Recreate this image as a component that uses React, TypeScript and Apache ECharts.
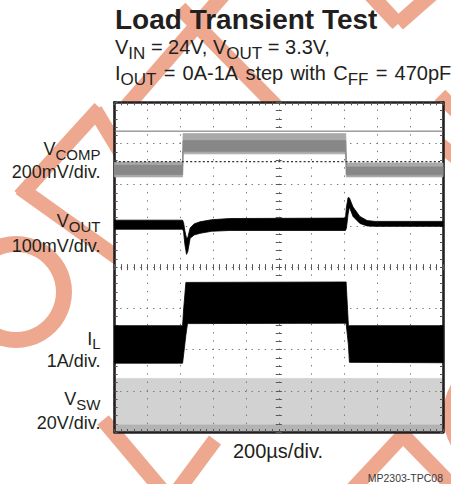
import React, { useEffect, useRef } from "react";
import * as echarts from "echarts";

// ---------- text ----------
const TITLE = "Load Transient Test";
const TIME_LABEL = "200\u00b5s/div.";
const FIG_ID = "MP2303-TPC08";

// ---------- scope screen (divisions) ----------
const X_DIVS = 10;
const Y_DIVS = 8;

// V_COMP (gray band), values in screen divisions
const vcompT = [0, 2.07, 2.085, 7.04, 7.055, 10];
const vcompOuterHi = [6.55, 6.55, 7.24, 7.24, 6.53, 6.53];
const vcompOuterLo = [6.19, 6.19, 6.75, 6.75, 6.19, 6.19];
const vcompCoreHi = [6.47, 6.47, 7.07, 7.07, 6.43, 6.43];
const vcompCoreLo = [6.25, 6.25, 6.81, 6.81, 6.24, 6.24];

// V_OUT (black band)
const voutT = [0, 2.07, 2.1, 2.14, 2.19, 2.23, 2.3, 2.42, 2.6, 2.95, 3.5, 7.03, 7.06, 7.11, 7.15, 7.26, 7.47, 7.69, 7.93, 10];
const voutHi = [5.14, 5.14, 5.08, 4.88, 4.7, 4.72, 4.95, 5.05, 5.1, 5.15, 5.18, 5.19, 5.46, 5.69, 5.68, 5.46, 5.23, 5.13, 5.11, 5.11];
const voutLo = [4.92, 4.92, 4.86, 4.55, 4.31, 4.38, 4.7, 4.78, 4.82, 4.87, 4.89, 4.89, 4.95, 5.29, 5.46, 5.23, 5.06, 5.0, 4.99, 4.99];

// I_L (black band)
const ilT = [0, 2.07, 2.1, 2.17, 2.22, 7.05, 7.12, 7.15, 10];
const ilHi = [2.58, 2.58, 2.96, 3.63, 3.63, 3.64, 2.58, 2.58, 2.58];
const ilLo = [1.67, 1.67, 1.87, 2.35, 2.63, 2.64, 2.11, 1.69, 1.68];

// V_SW (light gray band)
const vswT = [0, 10];
const vswHi = [1.3, 1.3];
const vswMid = [0.17, 0.17];
const vswLo = [0, 0];

// horizontal cursor / marker levels
const cursorLevel = [7.3];
const markerLevel = [6.56];

// ---------- layout ----------
const W = 451;
const H = 484;
const GL = 114.6;
const GT = 102.3;
const GW = 328.4;
const GH = 329.7;
const FONT = '"Liberation Sans", Arial, Helvetica, sans-serif';
const INK = "#231f20";
const WM = "#eea88f";

function band(name: string, t: number[], hi: number[], lo: number[], color: string, z: number) {
  return {
    type: "custom",
    name,
    xAxisIndex: 0,
    yAxisIndex: 0,
    z,
    silent: true,
    clip: true,
    data: [[t[0], lo[0]]],
    renderItem: (_p: any, api: any) => {
      const pts: number[][] = [];
      for (let i = 0; i < t.length; i++) pts.push(api.coord([t[i], hi[i]]));
      for (let i = t.length - 1; i >= 0; i--) pts.push(api.coord([t[i], lo[i]]));
      return {
        type: "polygon",
        shape: { points: pts },
        style: { fill: color, stroke: color, lineWidth: 0.8 },
      };
    },
  };
}

function hline(name: string, level: number, color: string, type: any, width: number) {
  return {
    type: "line",
    name,
    xAxisIndex: 0,
    yAxisIndex: 0,
    z: 3,
    silent: true,
    symbol: "none",
    data: [
      [0, level],
      [X_DIVS, level],
    ],
    lineStyle: { color, type, width },
  };
}

const tickStyle = { color: "#555", width: 1 };

function xAx(extra: any) {
  return {
    type: "value",
    min: 0,
    max: X_DIVS,
    interval: 1,
    axisLabel: { show: false },
    axisLine: { show: false, onZero: false },
    axisTick: { show: true, inside: true, length: 3, lineStyle: tickStyle },
    minorTick: { show: true, splitNumber: 5, length: 3, lineStyle: tickStyle },
    splitLine: { show: false },
    ...extra,
  };
}
function yAx(extra: any) {
  return {
    type: "value",
    min: 0,
    max: Y_DIVS,
    interval: 1,
    axisLabel: { show: false },
    axisLine: { show: false, onZero: false },
    axisTick: { show: true, inside: true, length: 3, lineStyle: tickStyle },
    minorTick: { show: true, splitNumber: 5, length: 3, lineStyle: tickStyle },
    splitLine: { show: false },
    ...extra,
  };
}

const frameLine = { show: true, onZero: false, lineStyle: { color: INK, width: 2.6 } };

// watermark strokes (decorative)
const WM_LINES = [
  [127, 106, 224, -6],
  [180, 8, 276, 106],
  [100, 108, 20, 196],
  [95, 110, 122, 155],
  [20, 188, 118, 258],
  [352, 490, 406, 432],
  [400, 432, 458, 492],
  [103, 420, 162, 490],
  [178, 490, 215, 440],
  [440, 95, 460, 115],
  [440, 145, 460, 160],
  [370, -6, 398, 24],
  [398, 24, 432, -6],
];
const WM_RINGS = [
  [16, 292, 56, 40],
  [505, 415, 62, 47],
];

export default function App() {
  const ref = useRef<HTMLDivElement>(null);
  useEffect(() => {
    if (!ref.current) return;
    const chart = echarts.init(ref.current, undefined, { renderer: "svg", width: W, height: H });

    // subscript: padding-top pushes the glyphs down by half the padding
    const sub = (size: number, lh: number, pad: number) => ({
      fontFamily: FONT,
      fontSize: size,
      lineHeight: lh,
      padding: [pad, 0, 0, 0],
      fill: INK,
      color: INK,
    });
    const main = (size: number) => ({ fontFamily: FONT, fontSize: size, lineHeight: size, fill: INK, color: INK });

    const richHead = { m: main(20), s: sub(17, 8, 12) };
    const richHead2 = {
      m: main(20),
      s: sub(17, 8, 12),
      sp: { fontFamily: FONT, fontSize: 26, lineHeight: 20, fill: INK, color: INK },
    };
    const richLab = { m: main(18), s: sub(15, 8, 10) };

    const graphics: any[] = [];
    WM_LINES.forEach((l) =>
      graphics.push({
        type: "line",
        z: -10,
        silent: true,
        shape: { x1: l[0], y1: l[1], x2: l[2], y2: l[3] },
        style: { stroke: WM, lineWidth: 15 },
      })
    );
    WM_RINGS.forEach((r) =>
      graphics.push({
        type: "ring",
        z: -10,
        silent: true,
        shape: { cx: r[0], cy: r[1], r: r[2], r0: r[3] },
        style: { fill: WM },
      })
    );
    graphics.push({
      type: "rect",
      z: -5,
      silent: true,
      shape: { x: GL, y: GT, width: GW, height: GH },
      style: { fill: "#ffffff" },
    });

    const txt = (text: string, x: number, y: number, font: string, align: string, va: string, fill = INK) => ({
      type: "text",
      z: 10,
      silent: true,
      x,
      y,
      style: { text, font, fill, align, verticalAlign: va },
    });
    const rich = (text: string, x: number, y: number, r: any, align: string) => ({
      type: "text",
      z: 10,
      silent: true,
      x,
      y,
      style: { text, rich: r, align, verticalAlign: "top", fill: INK },
    });

    graphics.push(txt(TITLE, 115, 19.6, `bold 28px ${FONT}`, "left", "middle"));
    graphics.push(rich("{m|V}{s|IN}{m| = 24V, V}{s|OUT}{m| = 3.3V,}", 115, 37.4, richHead, "left"));
    graphics.push(
      rich(
        "{m|I}{s|OUT}{sp| }{m|=}{sp| }{m|0A-1A}{sp| }{m|step}{sp| }{m|with}{sp| }{m|C}{s|FF}{sp| }{m|=}{sp| }{m|470pF}",
        115,
        63.1,
        richHead2,
        "left"
      )
    );

    const LX = 100.5;
    graphics.push(rich("{m|V}{s|COMP}", LX, 140.3, richLab, "right"));
    graphics.push(txt("200mV/div.", LX, 171.6, `18px ${FONT}`, "right", "middle"));
    graphics.push(rich("{m|V}{s|OUT}", LX, 212.0, richLab, "right"));
    graphics.push(txt("100mV/div.", LX, 246.0, `18px ${FONT}`, "right", "middle"));
    graphics.push(rich("{m|I}{s|L}", LX, 329.6, richLab, "right"));
    graphics.push(txt("1A/div.", LX, 361.4, `18px ${FONT}`, "right", "middle"));
    graphics.push(rich("{m|V}{s|SW}", LX, 390.3, richLab, "right"));
    graphics.push(txt("20V/div.", LX, 422.8, `18px ${FONT}`, "right", "middle"));

    graphics.push(txt(TIME_LABEL, 278, 451, `20px ${FONT}`, "center", "middle"));
    graphics.push(txt(FIG_ID, 443, 478.1, `10.5px ${FONT}`, "right", "middle", "#3a3a3a"));

    const hGap = GW / X_DIVS / 5;
    const vGap = GH / Y_DIVS / 5;

    const option: any = {
      animation: false,
      backgroundColor: "#ffffff",
      grid: { left: GL, top: GT, width: GW, height: GH, show: false },
      xAxis: [
        xAx({
          position: "bottom",
          axisLine: frameLine,
          splitLine: {
            show: true,
            lineStyle: { color: "#7a7a7a", width: 1, type: [1.4, vGap - 1.4], dashOffset: 0.7 },
          },
        }),
        xAx({ position: "top", axisLine: frameLine }),
        xAx({ position: "bottom", offset: -GH / 2 }),
        xAx({ position: "bottom", offset: -GH / 2, axisTick: { show: true, inside: false, length: 3, lineStyle: tickStyle } }),
      ],
      yAxis: [
        yAx({
          position: "left",
          axisLine: frameLine,
          splitLine: {
            show: true,
            lineStyle: { color: "#7a7a7a", width: 1, type: [1.4, hGap - 1.4], dashOffset: 0.7 },
          },
        }),
        yAx({ position: "right", axisLine: frameLine }),
        yAx({ position: "left", offset: -GW / 2 }),
        yAx({ position: "left", offset: -GW / 2, axisTick: { show: true, inside: false, length: 3, lineStyle: tickStyle } }),
      ],
      graphic: { elements: graphics },
      series: [
        band("VSW", vswT, vswHi, vswMid, "#d2d2d2", -1),
        band("VSW edge", vswT, vswMid, vswLo, "#b3b3b3", -1),
        band("VCOMP outer", vcompT, vcompOuterHi, vcompOuterLo, "#a9a9a9", 2),
        band("VCOMP core", vcompT, vcompCoreHi, vcompCoreLo, "#878787", 2),
        hline("cursor", cursorLevel[0], "#6a6a6a", "solid", 1),
        hline("marker", markerLevel[0], "#333333", [2, 2.2], 1.3),
        band("VOUT", voutT, voutHi, voutLo, "#000000", 4),
        band("IL", ilT, ilHi, ilLo, "#000000", 4),
      ],
    };
    chart.setOption(option);
    return () => chart.dispose();
  }, []);

  return (
    <div
      ref={ref}
      style={{ position: "fixed", left: 0, top: 0, width: W, height: H, background: "#fff" }}
    />
  );
}
